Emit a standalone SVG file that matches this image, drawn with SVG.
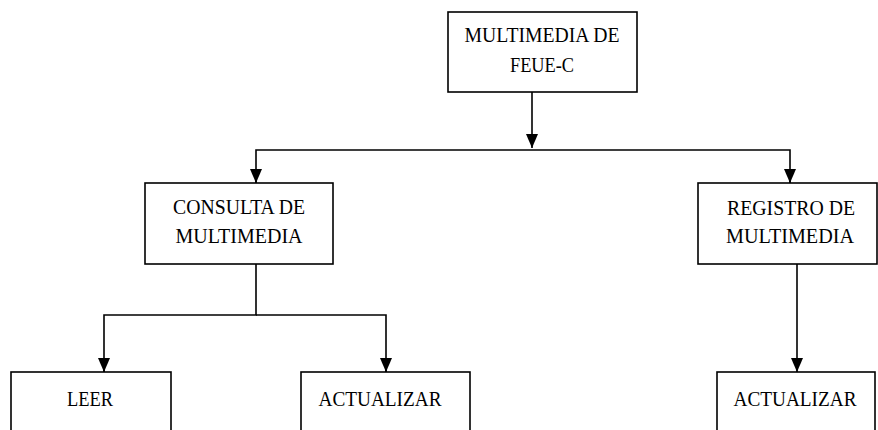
<svg xmlns="http://www.w3.org/2000/svg" width="878" height="430" viewBox="0 0 878 430">
<defs>
<marker id="arr" markerWidth="14" markerHeight="12" refX="14" refY="6" orient="auto" markerUnits="userSpaceOnUse" viewBox="0 0 14 12">
<path d="M0,0 L14,6 L0,12 Z" fill="#000"/>
</marker>
<style>
.box{fill:#fff;stroke:#000;stroke-width:1.6}
.t{font-family:"Liberation Serif","Times New Roman",serif;font-size:21px;fill:#000;text-anchor:middle}
.c{fill:none;stroke:#000;stroke-width:1.6}
</style>
</defs>
<rect width="878" height="430" fill="#fff"/>
<g id="connectors">
<path class="c" d="M532,92 V148" marker-end="url(#arr)"/>
<path class="c" d="M256,183 V150 H790 V183"/>
<path class="c" d="M256,169 V183" marker-end="url(#arr)"/>
<path class="c" d="M790,169 V183" marker-end="url(#arr)"/>
<path class="c" d="M256,264 V315 H104 V372"/>
<path class="c" d="M104,358 V372" marker-end="url(#arr)"/>
<path class="c" d="M256,315 H386 V372"/>
<path class="c" d="M386,358 V372" marker-end="url(#arr)"/>
<path class="c" d="M797,264 V372" marker-end="url(#arr)"/>
</g>
<g id="n-multimedia">
<rect class="box" x="448" y="12" width="189" height="80"/>
<text class="t" x="542" y="42" textLength="155" lengthAdjust="spacingAndGlyphs">MULTIMEDIA DE</text>
<text class="t" x="542" y="72" textLength="64" lengthAdjust="spacingAndGlyphs">FEUE-C</text>
</g>
<g id="n-consulta">
<rect class="box" x="145" y="183" width="188" height="81"/>
<text class="t" x="239" y="214" textLength="132" lengthAdjust="spacingAndGlyphs">CONSULTA DE</text>
<text class="t" x="239" y="243" textLength="127" lengthAdjust="spacingAndGlyphs">MULTIMEDIA</text>
</g>
<g id="n-registro">
<rect class="box" x="698" y="183" width="179" height="81"/>
<text class="t" x="791" y="215" textLength="128" lengthAdjust="spacingAndGlyphs">REGISTRO DE</text>
<text class="t" x="790" y="243" textLength="128" lengthAdjust="spacingAndGlyphs">MULTIMEDIA</text>
</g>
<g id="n-leer">
<rect class="box" x="11" y="372" width="160" height="70"/>
<text class="t" x="90" y="406" textLength="46" lengthAdjust="spacingAndGlyphs">LEER</text>
</g>
<g id="n-actualizar1">
<rect class="box" x="301" y="372" width="169" height="70"/>
<text class="t" x="380" y="406" textLength="123" lengthAdjust="spacingAndGlyphs">ACTUALIZAR</text>
</g>
<g id="n-actualizar2">
<rect class="box" x="717" y="372" width="158" height="70"/>
<text class="t" x="795" y="406" textLength="123" lengthAdjust="spacingAndGlyphs">ACTUALIZAR</text>
</g>
</svg>
